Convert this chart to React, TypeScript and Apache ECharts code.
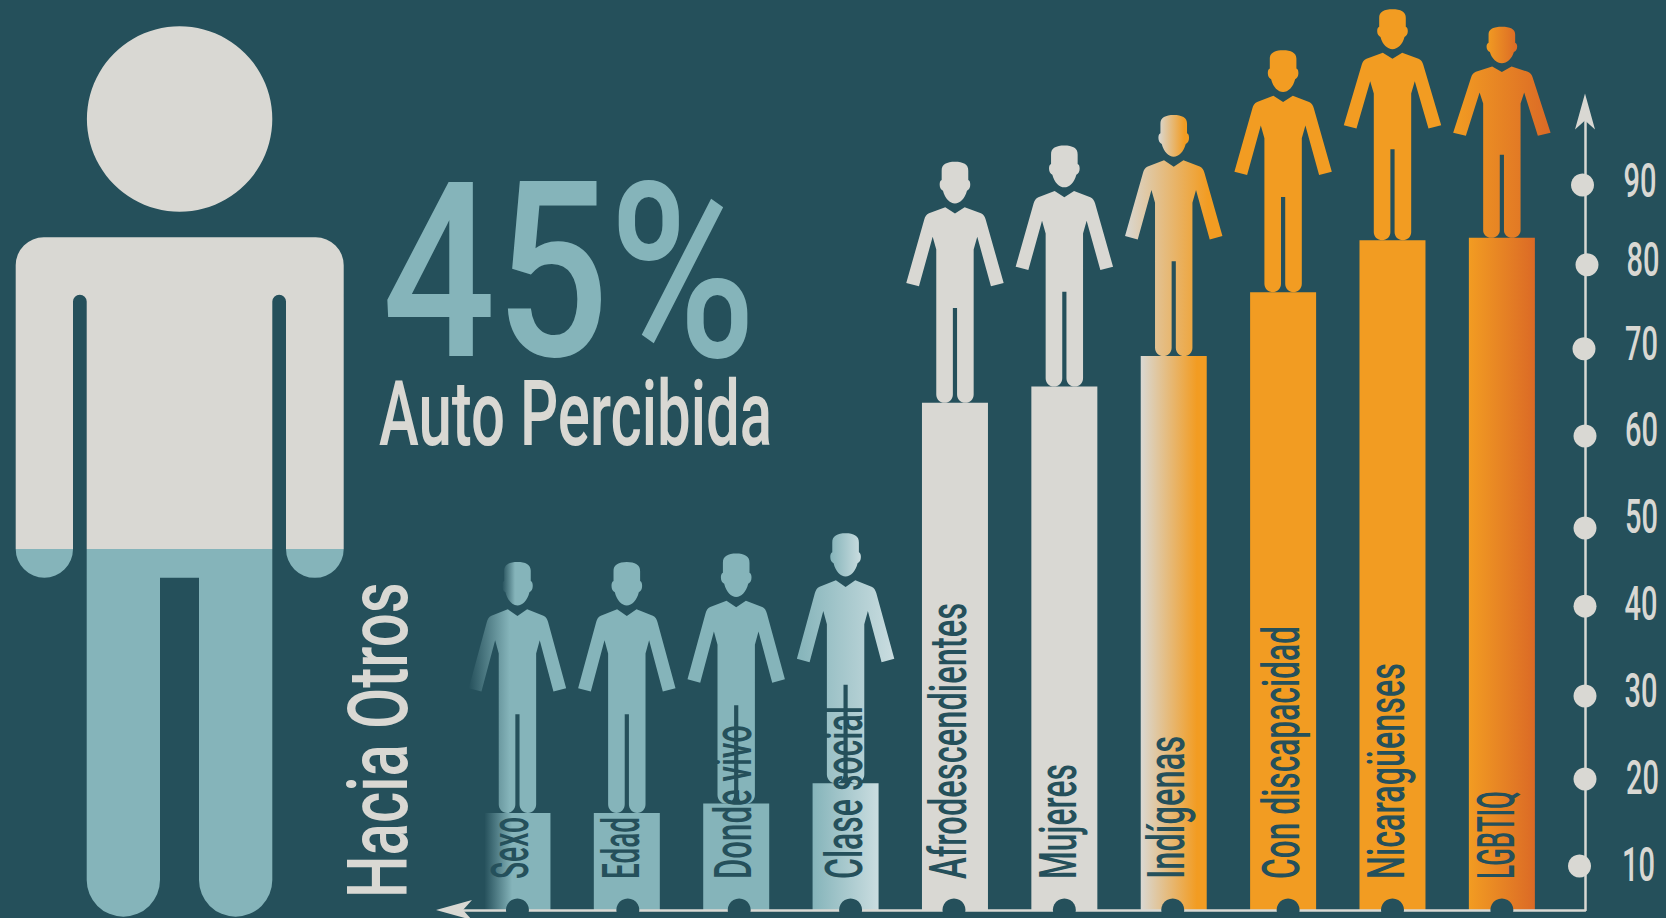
import React, { useEffect, useRef } from "react";
import * as echarts from "echarts";

const categories = ["Sexo", "Edad", "Donde vivo", "Clase social", "Afrodescendientes", "Mujeres", "Indígenas", "Con discapacidad", "Nicaragüenses", "LGBTIQ"];
const values = [16.4, 16.4, 17.5, 19.9, 64.6, 66.5, 70.1, 77.6, 83.7, 84];
const tickValues = [10, 20, 30, 40, 50, 60, 70, 80, 90];

// layout tweaks, kept apart from the data
const figureHeights = [251, 251, 250, 250, 241, 241, 241, 242, 231, 211];
const labelLengths = [62, 62, 154, 173, 276, 115, 143, 253, 216, 88];
const labelNudge = [-6.5, -5, -3, -1.5, -6.5, -5.5, -7.5, -2, -6.5, -6];
const baseDotNudge = [0, 1, 3, 5, -1, 0, -1, 5, 0, 0];
const tickDotNudge = [[-5.5, -1.5], [0, -3.4], [0, -1.3], [0, -6], [0, 1], [0, -6], [-1, -8], [2, -7], [-2.5, -1.6]];
const tickLabelPos = [[1638.6, 865], [1642.6, 778], [1641, 691], [1641, 603.5], [1641.6, 517], [1641.6, 430], [1641.5, 344], [1643, 260], [1640, 181]];

const BG = "#25505B";
const CREAM = "#D9D8D3";
const TEAL = "#85B4BA";
const ORANGE = "#F29C22";
const FONT_NAME = "Roboto";
const FONT_WEIGHT = 500;

const grad = (stops: [number, string][]) =>
  new echarts.graphic.LinearGradient(0, 0, 1, 0, stops.map(([offset, color]) => ({ offset, color })));

const barFills: any[] = [
  grad([[0, BG], [0.42, TEAL], [1, TEAL]]),
  TEAL,
  TEAL,
  grad([[0, TEAL], [1, "#CADDE0"]]),
  CREAM,
  CREAM,
  grad([[0, CREAM], [0.85, ORANGE], [1, ORANGE]]),
  ORANGE,
  ORANGE,
  grad([[0, ORANGE], [1, "#DB6A26"]]),
];
const figureFills: any[] = [
  grad([[0, BG], [0.42, TEAL], [1, TEAL]]),
  TEAL,
  TEAL,
  grad([[0, TEAL], [1, "#CADDE0"]]),
  CREAM,
  CREAM,
  grad([[0, CREAM], [0.85, ORANGE], [1, ORANGE]]),
  ORANGE,
  ORANGE,
  grad([[0, ORANGE], [1, "#DB6A26"]]),
];

const HEAD =
  "M0,0 C-8,0 -13.6,2.5 -13.3,9 L-13.3,18.3 C-15,19 -15.3,21 -15.3,23 C-15.3,26 -14,28 -12,29 C-10,37 -5,41.7 0,41.7 " +
  "C5,41.7 10,37 12,29 C14,28 15.3,26 15.3,23 C15.3,21 15,19 13.3,18.3 L13.3,9 C13.6,2.5 8,0 0,0 Z";
const BODY =
  "M-9.7,45.3 L0,51.7 L9.7,45.3 L26,51.5 C28.5,52.5 30,55 30.7,57.7 L48.7,121 L36,124.3 L22.3,75 L18.7,87.7 L18.7,232.4 " +
  "C18.7,237 15,240.7 10.4,240.7 C5.8,240.7 2.1,237 2.1,232.4 L2.1,146 L-2.1,146 L-2.1,232.4 " +
  "C-2.1,237 -5.8,240.7 -10.4,240.7 C-15,240.7 -18.7,237 -18.7,232.4 L-18.7,87.7 L-22.3,75 L-36,124.3 L-48.7,121 L-30.7,57.7 " +
  "C-30,55 -28.5,52.5 -26,51.5 Z";

const BODY_TOP =
  "M15.7,549 L15.7,265.3 A28,28 0 0 1 43.7,237.3 L315.7,237.3 A28,28 0 0 1 343.7,265.3 L343.7,549 L286,549 L286,301.5 " +
  "A6.85,6.85 0 0 0 272.3,301.5 L272.3,549 L86.7,549 L86.7,301.5 A6.85,6.85 0 0 0 73,301.5 L73,549 Z";
const BODY_BOTTOM =
  "M15.7,549 L73,549 A28.65,28.65 0 0 1 15.7,549 Z M286,549 L343.7,549 A28.85,28.85 0 0 1 286,549 Z " +
  "M86.7,549 L272.3,549 L272.3,880 A36.65,36.65 0 0 1 199,880 L199,577.7 L160,577.7 L160,880 A36.65,36.65 0 0 1 86.7,880 Z";
echarts.graphic.registerShape("bigBodyTop", echarts.graphic.extendPath(BODY_TOP, {}) as any);
echarts.graphic.registerShape("bigBodyBottom", echarts.graphic.extendPath(BODY_BOTTOM, {}) as any);

const measure = (text: string, size: number) => {
  const ctx = document.createElement("canvas").getContext("2d")!;
  ctx.font = `${FONT_WEIGHT} ${size}px ${FONT_NAME}`;
  return ctx.measureText(text).width;
};

const ARROW = "path://M10,0 L20,36 L10,27 L0,36 Z";
const X_MIN = -0.58;
const X_MAX = 9.76;
const Y_MIN = 5;

export default function App() {
  const ref = useRef<HTMLDivElement>(null);
  useEffect(() => {
    const chart = echarts.init(ref.current!, null, { renderer: "svg" });
    const points = categories.map((_, i) => [i, values[i]]);
    const textEl = (text: string, size: number, width: number, x: number, y: number, fill: string, rotation = 0) => ({
      type: "text",
      x,
      y,
      rotation,
      scaleX: width / measure(text, size),
      style: { text, fontSize: size, fontFamily: FONT_NAME, fontWeight: FONT_WEIGHT, fill, align: "left", verticalAlign: "middle" },
    });
    chart.setOption({
      animation: false,
      backgroundColor: BG,
      grid: { left: 454, right: 81, top: 101.5, bottom: 8, containLabel: false },
      xAxis: {
        type: "value",
        min: X_MIN,
        max: X_MAX,
        z: 3,
        axisLine: { onZero: false, lineStyle: { color: CREAM, width: 2.5 }, symbol: [ARROW, "none"], symbolSize: [21, 36] },
        axisTick: { show: false },
        axisLabel: { show: false },
        splitLine: { show: false },
      },
      yAxis: {
        type: "value",
        position: "right",
        min: Y_MIN,
        max: 100,
        interval: 5,
        z: 3,
        axisLine: { show: true, onZero: false, lineStyle: { color: CREAM, width: 2.5 }, symbol: ["none", ARROW], symbolSize: [20, 36], symbolOffset: [0, -10] },
        axisTick: { show: false },
        axisLabel: { show: false },
        splitLine: { show: false },
      },
      graphic: {
        elements: [
          { type: "circle", shape: { cx: 179.6, cy: 119, r: 92.7 }, style: { fill: CREAM }, z: 1 },
          { type: "bigBodyTop", style: { fill: CREAM }, z: 1 },
          { type: "bigBodyBottom", style: { fill: TEAL }, z: 1 },
          textEl("45%", 246, 374, 382, 272, TEAL),
          textEl("Auto Percibida", 90, 393, 379, 414, CREAM),
          textEl("Hacia Otros", 84, 316, 378, 898, CREAM, Math.PI / 2),
        ],
      },
      series: [
        {
          type: "bar",
          barWidth: 66,
          z: 2,
          data: points.map((p, i) => ({ value: p, itemStyle: { color: barFills[i] } })),
        },
        {
          type: "custom",
          z: 2,
          data: points,
          renderItem: (_: any, api: any) => {
            const i = api.value(0);
            const [cx, y] = api.coord([i, api.value(1)]);
            const h = figureHeights[i];
            const s = h / 240.7;
            const top = y - h;
            return {
              type: "group",
              children: [
                {
                  type: "path",
                  shape: { pathData: HEAD, layout: "cover", x: cx - 15.3, y: top, width: 30.6, height: 41.7 * s },
                  style: { fill: figureFills[i] },
                },
                {
                  type: "path",
                  shape: { pathData: BODY, layout: "cover", x: cx - 48.7, y: top + 45.3 * s, width: 97.4, height: 195.4 * s },
                  style: { fill: figureFills[i] },
                },
              ],
            };
          },
        },
        {
          type: "custom",
          z: 4,
          data: points,
          renderItem: (_: any, api: any) => {
            const i = api.value(0);
            const [cx, y] = api.coord([i, Y_MIN]);
            return { type: "circle", shape: { cx: cx + baseDotNudge[i], cy: y, r: 11.5 }, style: { fill: BG } };
          },
        },
        {
          type: "custom",
          z: 5,
          data: points,
          renderItem: (_: any, api: any) => {
            const i = api.value(0);
            const [cx] = api.coord([i, Y_MIN]);
            return textEl(categories[i], 51, labelLengths[i], cx + labelNudge[i], 879, BG, Math.PI / 2);
          },
        },
        {
          type: "custom",
          z: 5,
          data: tickValues.map((v) => [X_MAX, v]),
          renderItem: (params: any, api: any) => {
            const k = params.dataIndex;
            const [x, y] = api.coord([api.value(0), api.value(1)]);
            const [dx, dy] = tickDotNudge[k];
            const [lx, ly] = tickLabelPos[k];
            const t = String(tickValues[k]);
            const w = 33 * measure(t, 49) / measure("90", 49);
            return {
              type: "group",
              children: [
                { type: "circle", shape: { cx: x + dx, cy: y + dy, r: 11.5 }, style: { fill: CREAM } },
                textEl(t, 49, w, lx - w / 2, ly, CREAM),
              ],
            };
          },
        },
      ],
    });
    return () => chart.dispose();
  }, []);
  return <div ref={ref} style={{ position: "fixed", left: 0, top: 0, width: 1666, height: 918 }} />;
}
